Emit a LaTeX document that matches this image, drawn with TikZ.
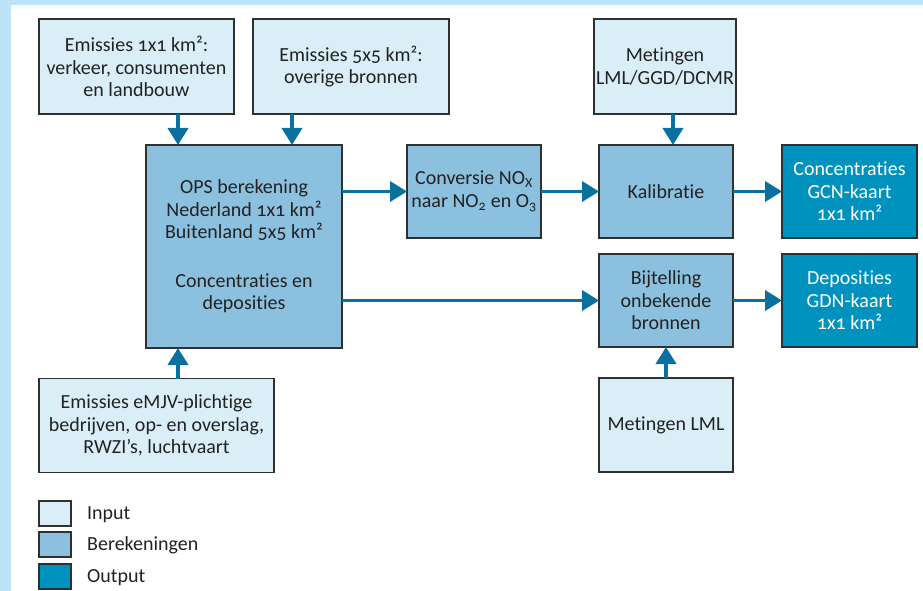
\documentclass[tikz,border=0pt]{standalone}
\usepackage{fontspec}
\setmainfont{Carlito}[Numbers=OldStyle, Ligatures=NoCommon]
\usetikzlibrary{arrows.meta}
\definecolor{frameblue}{HTML}{BDE3F9}
\definecolor{inputfill}{HTML}{DAEEF8}
\definecolor{calcfill}{HTML}{8CC0DF}
\definecolor{outfill}{HTML}{0092BF}
\definecolor{arrowblue}{HTML}{0A70A0}
\definecolor{boxline}{HTML}{303030}
\definecolor{txt}{HTML}{222222}
\tikzset{
  basebox/.style={draw=boxline, line width=1.1pt, inner sep=0pt, outer sep=0pt,
    align=center, text=txt, font=\fontsize{20pt}{22.5pt}\selectfont},
  inbox/.style={basebox, fill=inputfill},
  calcbox/.style={basebox, fill=calcfill},
  outbox/.style={basebox, fill=outfill, text=white},
  arr/.style={draw=arrowblue, line width=3.8pt, -{Triangle[width=20pt,length=17pt]}},
  legtext/.style={anchor=west, inner sep=0pt, text=txt, font=\fontsize{20pt}{22.5pt}\selectfont}
}
\begin{document}
\begin{tikzpicture}[x=1pt,y=-1pt]
\useasboundingbox (0,0) rectangle (923,591);
\fill[frameblue] (0,0) rectangle (923,591);
\fill[white] (10.5,5.5) rectangle (923,591);

% input boxes
\node[inbox, minimum width=195pt, minimum height=95pt] (e1) at (136.5,66.5)
  {Emissies 1x1 km²:\\verkeer, consumenten\\en landbouw};
\node[inbox, minimum width=196pt, minimum height=95pt] (e2) at (351,66.5)
  {Emissies 5x5 km²:\\overige bronnen};
\node[inbox, minimum width=142pt, minimum height=95pt] (met) at (665,66.5)
  {Metingen\\LML/GGD/DCMR};

% calculation boxes
\node[calcbox, minimum width=196pt, minimum height=203pt] (ops) at (244,246.5)
  {OPS berekening\\Nederland 1x1 km²\\Buitenland 5x5 km²\\[26pt]Concentraties en\\deposities};
\node[calcbox, minimum width=134pt, minimum height=93pt] (conv) at (474,191.5)
  {Conversie NO\textsubscript{X}\\naar NO\textsubscript{2} en O\textsubscript{3}};
\node[calcbox, minimum width=134pt, minimum height=93pt] (kal) at (666,191.5)
  {Kalibratie};
\node[calcbox, minimum width=134pt, minimum height=93pt] (bij) at (666,300.5)
  {Bijtelling\\onbekende\\bronnen};

% output boxes
\node[outbox, minimum width=135pt, minimum height=93pt] (conc) at (849.5,191.5)
  {Concentraties\\GCN-kaart\\1x1 km²};
\node[outbox, minimum width=135pt, minimum height=93pt] (dep) at (849.5,300.5)
  {Deposities\\GDN-kaart\\1x1 km²};

% lower inputs
\node[inbox, minimum width=235pt, minimum height=94pt] (emjv) at (156.5,425.5)
  {Emissies eMJV-plichtige\\bedrijven, op- en overslag,\\RWZI’s, luchtvaart};
\node[inbox, minimum width=134pt, minimum height=94pt] (metlml) at (666,425)
  {Metingen LML};

% arrow columns
\coordinate (c1) at (178,0);
\coordinate (c2) at (292,0);
\coordinate (c3) at (673,0);
\coordinate (c4) at (666,0);

\draw[arr] (c1 |- e1.south) -- (c1 |- ops.north);
\draw[arr] (c2 |- e2.south) -- (c2 |- ops.north);
\draw[arr] (c1 |- emjv.north) -- (c1 |- ops.south);
\draw[arr] (c3 |- met.south) -- (c3 |- kal.north);
\draw[arr] (c4 |- metlml.north) -- (c4 |- bij.south);
\draw[arr] (ops.east |- conv.west) -- (conv.west);
\draw[arr] (conv.east) -- (kal.west);
\draw[arr] (kal.east) -- (conc.west);
\draw[arr] (ops.east |- bij.west) -- (bij.west);
\draw[arr] (bij.east) -- (dep.west);

% legend
\node[inbox, minimum width=32pt, minimum height=25pt] (l1) at (55,513.5) {};
\node[calcbox, minimum width=32pt, minimum height=25pt] (l2) at (55,544.5) {};
\node[outbox, minimum width=32pt, minimum height=25pt] (l3) at (55,576.5) {};
\node[legtext] (t1) at (87,514.5) {Input};
\node[legtext] (t2) at (87,545.5) {Berekeningen};
\node[legtext] (t3) at (87,577.5) {Output};
\end{tikzpicture}
\end{document}
